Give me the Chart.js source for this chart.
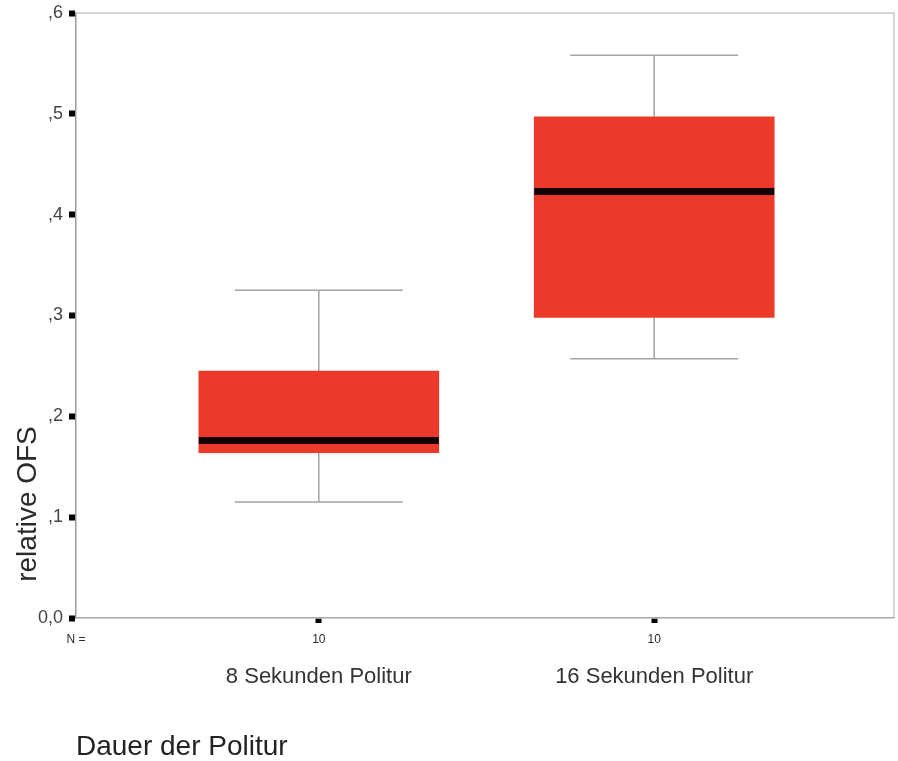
<!DOCTYPE html>
<html>
<head>
<meta charset="utf-8">
<script src="https://cdn.jsdelivr.net/npm/chart.js@4/dist/chart.umd.min.js"></script>
<style>
  html, body { margin: 0; padding: 0; background: #fff; }
</style>
</head>
<body>
<canvas id="chart" width="898" height="761"></canvas>
<script>
// groups on the x axis (placed at 1 and 2)
const groups = ["8 Sekunden Politur", "16 Sekunden Politur"];
const groupPos = [1, 2];
const counts = [10, 10];

// box plot values
const whiskerLow = [0.115, 0.257];
const q1 = [0.164, 0.298];
const median = [0.176, 0.423];
const q3 = [0.245, 0.497];
const whiskerHigh = [0.325, 0.558];

const yTicks = [0, 0.1, 0.2, 0.3, 0.4, 0.5, 0.6];
const xMin = 0.276;
const xMax = 2.715;

const FONT = '"Liberation Sans", Arial, Helvetica, sans-serif';
const BOX_WIDTH = 240;
const CAP_HALF = 84;

// whiskers, medians, frame and the rotated y title
const boxExtras = {
  id: "boxExtras",
  beforeDatasetsDraw(chart) {
    const { ctx, chartArea, scales: { x, y } } = chart;
    ctx.save();
    // top and right frame
    ctx.strokeStyle = "#c8c8c8";
    ctx.lineWidth = 1.5;
    ctx.beginPath();
    ctx.moveTo(chartArea.left, chartArea.top);
    ctx.lineTo(chartArea.right, chartArea.top);
    ctx.lineTo(chartArea.right, chartArea.bottom);
    ctx.stroke();

    ctx.strokeStyle = "#a4a4a4";
    ctx.lineWidth = 1.5;
    groupPos.forEach((g, i) => {
      const px = x.getPixelForValue(g);
      const hi = y.getPixelForValue(whiskerHigh[i]);
      const lo = y.getPixelForValue(whiskerLow[i]);
      ctx.beginPath();
      ctx.moveTo(px, hi);
      ctx.lineTo(px, y.getPixelForValue(q3[i]));
      ctx.moveTo(px, y.getPixelForValue(q1[i]));
      ctx.lineTo(px, lo);
      ctx.moveTo(px - CAP_HALF, hi);
      ctx.lineTo(px + CAP_HALF, hi);
      ctx.moveTo(px - CAP_HALF, lo);
      ctx.lineTo(px + CAP_HALF, lo);
      ctx.stroke();
    });
    ctx.restore();
  },
  afterDatasetsDraw(chart) {
    const { ctx, scales: { x, y } } = chart;
    ctx.save();
    ctx.strokeStyle = "#140000";
    ctx.lineWidth = 7;
    groupPos.forEach((g, i) => {
      const px = x.getPixelForValue(g);
      const py = y.getPixelForValue(median[i]);
      ctx.beginPath();
      ctx.moveTo(px - BOX_WIDTH / 2, py);
      ctx.lineTo(px + BOX_WIDTH / 2, py);
      ctx.stroke();
    });
    ctx.restore();
  },
  afterDraw(chart) {
    const { ctx } = chart;
    ctx.save();
    ctx.translate(28, 504);
    ctx.rotate(-Math.PI / 2);
    ctx.font = "28px " + FONT;
    ctx.fillStyle = "#2a2a2a";
    ctx.textAlign = "center";
    ctx.textBaseline = "middle";
    ctx.fillText("relative OFS", 0, 0);
    ctx.restore();
  },
};

new Chart(document.getElementById("chart"), {
  type: "bar",
  data: {
    datasets: [
      {
        data: groupPos.map((g, i) => ({ x: g, y: [q1[i], q3[i]] })),
        backgroundColor: "#ec3a2a",
        borderWidth: 0,
        barThickness: BOX_WIDTH,
      },
    ],
  },
  options: {
    responsive: false,
    animation: false,
    layout: { padding: { top: 13, right: 4, left: 0, bottom: 0 } },
    plugins: {
      legend: { display: false },
      tooltip: { enabled: false },
    },
    scales: {
      y: {
        type: "linear",
        min: 0,
        max: 0.6,
        afterBuildTicks: (s) => {
          s.ticks = yTicks.map((v) => ({ value: v }));
        },
        afterFit: (s) => {
          s.width = 76;
          s.paddingTop = 0;
          s.paddingBottom = 0;
        },
        ticks: {
          padding: 6,
          color: "#454545",
          font: { family: FONT, size: 18 },
          callback: (v) => (v === 0 ? "0,0" : "," + Math.round(v * 10)),
        },
        grid: {
          drawOnChartArea: false,
          tickLength: 7,
          tickWidth: 6,
          tickColor: "#000",
        },
        border: { color: "#9a9a9a", width: 1.5 },
      },
      x: {
        type: "linear",
        position: "bottom",
        weight: 1,
        min: xMin,
        max: xMax,
        offset: false,
        afterBuildTicks: (s) => {
          s.ticks = [xMin, ...groupPos].map((v) => ({ value: v }));
        },
        afterFit: (s) => {
          s.height = 40;
        },
        ticks: {
          autoSkip: false,
          maxRotation: 0,
          padding: 9,
          color: "#2a2a2a",
          font: { family: FONT, size: 12 },
          callback: (v) => (v === xMin ? "N =" : String(counts[groupPos.indexOf(v)])),
        },
        grid: {
          offset: false,
          drawOnChartArea: false,
          tickLength: 5,
          tickWidth: 6,
          tickColor: (c) => (c.tick && c.tick.value === xMin ? "rgba(0,0,0,0)" : "#000"),
        },
        border: { color: "#a8a8a8", width: 1.5 },
      },
      x2: {
        type: "linear",
        position: "bottom",
        weight: 2,
        min: xMin,
        max: xMax,
        offset: false,
        afterBuildTicks: (s) => {
          s.ticks = groupPos.map((v) => ({ value: v }));
        },
        afterFit: (s) => {
          s.height = 103;
        },
        ticks: {
          autoSkip: false,
          maxRotation: 0,
          padding: 6,
          color: "#333",
          font: { family: FONT, size: 22 },
          callback: (v) => groups[groupPos.indexOf(v)],
        },
        grid: { display: false, drawTicks: false },
        border: { display: false },
        title: {
          display: true,
          text: "Dauer der Politur",
          align: "start",
          color: "#222",
          font: { family: FONT, size: 28, lineHeight: 1 },
          padding: { top: 0, bottom: 0 },
        },
      },
    },
  },
  plugins: [boxExtras],
});
</script>
</body>
</html>
